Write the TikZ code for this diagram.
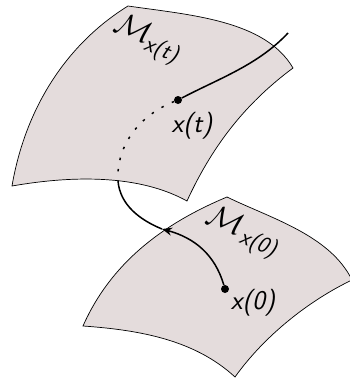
\documentclass[tikz,border=0pt]{standalone}
\usetikzlibrary{arrows.meta}
\definecolor{cpatch}{RGB}{228,220,220}
\tikzset{manifold/.style={x=1pt,y=-1pt,font=\fontsize{27}{30}\sffamily\itshape},
  patch/.style={fill=cpatch,draw=black,line width=0.7pt,line join=miter},
  flow/.style={black,line width=1.5pt},
  point/.style={circle,fill=black,inner sep=0pt,minimum size=8pt},
  subscr/.style={rotate=-22,font=\fontsize{23}{26}\sffamily\itshape},
  bigm/.style={rotate=-22,scale=1.25,inner sep=0pt,font=\fontsize{24.88}{28}\selectfont}}
\begin{document}
\begin{tikzpicture}[manifold]
    \useasboundingbox (0,0) rectangle (350,383);
    \clip (0,0) rectangle (350,383);
    \coordinate (turn) at (118,181);
    \coordinate (cross) at (162,229);
    \coordinate (end) at (288,33);
    % upper patch
    \draw[patch] (128,6) .. controls (190,15) and (265,20) .. (293,68)
       .. controls (250,100) and (215,140) .. (187,201)
       .. controls (140,175) and (75,175) .. (12,186)
       .. controls (25,110) and (65,45) .. (128,6) -- cycle;
    % lower patch
    \draw[patch] (227,197) .. controls (270,218) and (330,235) .. (352,280)
       .. controls (310,300) and (265,335) .. (235,377)
       .. controls (195,340) and (140,330) .. (83,326)
       .. controls (110,265) and (160,225) .. (227,197) -- cycle;
    \node[point] (xt) at (178,100) {};
    \node[point] (xo) at (225,289) {};
    \draw[flow] (xt) .. controls (220,78) and (258,65) .. (end);
    \draw[flow,dash pattern=on 2.5pt off 9pt] (xt) .. controls (140,115) and (116,145) .. (turn);
    \draw[flow] (turn) .. controls (120,205) and (140,220) .. (cross);
    \draw[flow,-{Stealth[length=10pt,width=8pt]}] (xo) .. controls (215,255) and (195,238) .. (cross);
    \node (lxt) at (192,126) {x(t)};
    \node (lxo) at (253,303) {x(0)};
    \node[bigm] (lmt) at (134,28) {$\mathcal{M}$};
    \node[subscr] (lst) at (161,51) {x(t)};
    \node[bigm] (lmo) at (226,220) {$\mathcal{M}$};
    \node[subscr] (lso) at (258,244) {x(0)};
  \end{tikzpicture}
\end{document}
